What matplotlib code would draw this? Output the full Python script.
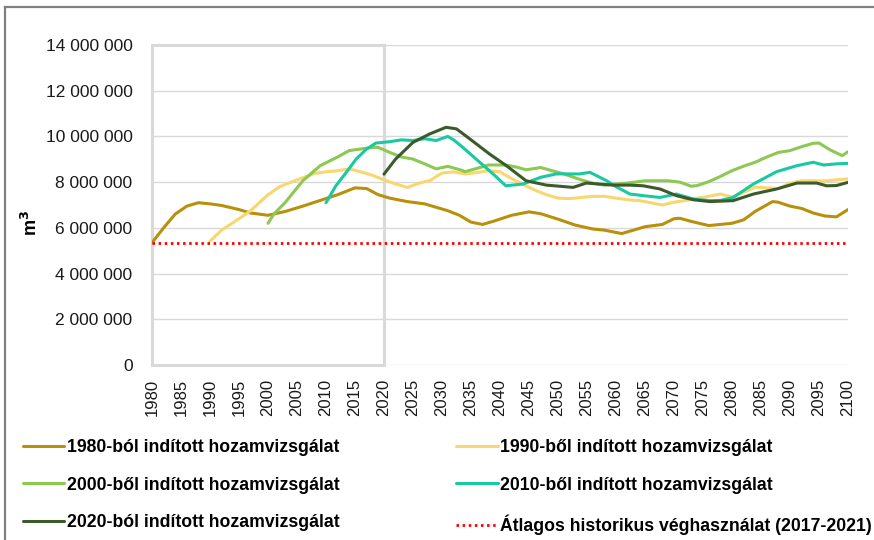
import numpy as np
import matplotlib
matplotlib.use("Agg")
import matplotlib.pyplot as plt
from matplotlib.patches import Rectangle
from matplotlib.lines import Line2D

plt.rcParams['font.family'] = ['Liberation Sans', 'DejaVu Sans']

# data, values in million m3
y1980 = [1980, 1982, 1984, 1986, 1988, 1990, 1992, 1995, 1997, 2000, 2003, 2006, 2009, 2012,
         2015, 2017, 2019, 2021, 2024, 2027, 2029, 2031, 2033, 2035, 2037, 2039, 2042, 2045,
         2047, 2050, 2053, 2056, 2058, 2061, 2063, 2065, 2068, 2070, 2071, 2073, 2076, 2078,
         2080, 2082, 2084, 2087, 2088, 2090, 2092, 2094, 2096, 2098, 2100]
v1980 = [5.35, 6.0, 6.6, 6.95, 7.1, 7.05, 6.98, 6.8, 6.65, 6.55, 6.72, 6.95, 7.2, 7.45,
         7.75, 7.72, 7.45, 7.3, 7.15, 7.05, 6.9, 6.75, 6.55, 6.25, 6.15, 6.3, 6.55, 6.7,
         6.62, 6.38, 6.12, 5.95, 5.9, 5.75, 5.9, 6.05, 6.15, 6.4, 6.42, 6.28, 6.1, 6.15,
         6.2, 6.35, 6.72, 7.15, 7.12, 6.95, 6.85, 6.65, 6.52, 6.48, 6.8]

y1990 = [1990, 1992, 1995, 1997, 2000, 2002, 2005, 2008, 2010, 2012, 2014, 2016, 2018, 2020,
         2022, 2024, 2026, 2028, 2030, 2032, 2034, 2036, 2038, 2040, 2042, 2044, 2046, 2048,
         2050, 2052, 2054, 2056, 2058, 2060, 2062, 2064, 2066, 2068, 2070, 2072, 2074, 2076,
         2078, 2080, 2082, 2084, 2086, 2088, 2090, 2092, 2094, 2096, 2098, 2100]
v1990 = [5.42, 5.9, 6.4, 6.75, 7.45, 7.8, 8.1, 8.38, 8.45, 8.5, 8.58, 8.45, 8.3, 8.1,
         7.92, 7.77, 7.95, 8.08, 8.4, 8.45, 8.36, 8.42, 8.5, 8.45, 8.15, 7.9, 7.65, 7.45,
         7.3, 7.28, 7.33, 7.38, 7.38, 7.3, 7.23, 7.19, 7.1, 7.0, 7.12, 7.2, 7.3, 7.38,
         7.48, 7.35, 7.55, 7.78, 7.75, 7.72, 7.95, 8.06, 8.06, 8.05, 8.1, 8.14]

y2000 = [2000, 2001, 2003, 2006, 2009, 2012, 2014, 2016, 2018, 2019, 2021, 2023, 2025, 2027,
         2029, 2031, 2033, 2034, 2036, 2038, 2041, 2043, 2044.5, 2047, 2049, 2051, 2054, 2056,
         2058, 2060, 2062, 2065, 2069, 2071, 2073, 2074, 2076, 2078, 2080, 2082, 2084, 2086,
         2088, 2090, 2092, 2094, 2095, 2097, 2099, 2100]
v2000 = [6.2, 6.6, 7.12, 8.06, 8.72, 9.1, 9.38, 9.45, 9.52, 9.52, 9.3, 9.1, 9.01, 8.8,
         8.58, 8.69, 8.55, 8.46, 8.6, 8.75, 8.75, 8.65, 8.54, 8.64, 8.5, 8.36, 8.1, 7.95,
         7.87, 7.92, 7.96, 8.06, 8.06, 8.0, 7.82, 7.85, 8.02, 8.25, 8.5, 8.7, 8.87, 9.1,
         9.3, 9.38, 9.55, 9.7, 9.71, 9.4, 9.16, 9.33]

y2010 = [2010, 2011.7, 2013.5, 2015.2, 2017, 2018.6, 2021, 2023, 2025, 2027, 2029, 2031,
         2032, 2033.6, 2036.5, 2038.8, 2041, 2044, 2047, 2049.7, 2053.7, 2055.5, 2058.4,
         2060, 2062.4, 2065, 2067.6, 2070.4, 2073.3, 2076.2, 2078, 2080.2, 2083.7, 2087.7,
         2091.2, 2094, 2095.8, 2098, 2100]
v2010 = [7.1, 7.84, 8.43, 9.01, 9.45, 9.71, 9.77, 9.85, 9.82, 9.9, 9.82, 10.0,
         9.85, 9.52, 8.87, 8.36, 7.84, 7.92, 8.21, 8.36, 8.36, 8.43, 8.06,
         7.8, 7.48, 7.4, 7.33, 7.48, 7.26, 7.19, 7.2, 7.33, 7.92, 8.46,
         8.72, 8.87, 8.75, 8.8, 8.82]

y2020 = [2020, 2022, 2025, 2027.8, 2030.7, 2032.5, 2034.8, 2038.2, 2041.1, 2044.5, 2048,
         2052.6, 2054.9, 2059.5, 2062.4, 2064.7, 2067.6, 2070.4, 2073.3, 2076.2, 2080.2,
         2083.7, 2087.7, 2091.2, 2094.6, 2096.3, 2098, 2100]
v2020 = [8.35, 9.01, 9.74, 10.1, 10.4, 10.33, 9.89, 9.23, 8.72, 8.06, 7.87,
         7.77, 7.96, 7.87, 7.87, 7.84, 7.7, 7.41, 7.23, 7.15, 7.19,
         7.48, 7.7, 7.96, 7.96, 7.84, 7.85, 7.99]

hist_avg = 5.35

labels = ['1980-ból indított hozamvizsgálat', '1990-ből indított hozamvizsgálat',
          '2000-ből indított hozamvizsgálat', '2010-ből indított hozamvizsgálat',
          '2020-ból indított hozamvizsgálat', 'Átlagos historikus véghasználat (2017-2021)']
colors = ['#B8900C', '#F8D670', '#8CC852', '#18C9A2', '#3C5A2C']

fig = plt.figure(figsize=(8.74, 5.4), dpi=100)
ax = fig.add_axes([152/874, 1 - 365/540, (848 - 152)/874, 320/540])

lines = []
for (yy, vv), c, lab in zip([(y1980, v1980), (y1990, v1990), (y2000, v2000),
                             (y2010, v2010), (y2020, v2020)], colors, labels):
    l, = ax.plot(yy, np.array(vv) * 1e6, color=c, lw=2.2, label=lab, zorder=3,
                 solid_capstyle='round')
    lines.append(l)
avg, = ax.plot([1980, 2100], [hist_avg * 1e6] * 2, color='#FF0000', lw=2,
               linestyle=(0, (0.9, 1.3)), dash_capstyle='butt', zorder=4, label=labels[5])

ax.add_patch(Rectangle((1980, 0), 40, 14e6, fill=False, edgecolor='#D9D9D9', lw=2.2,
                       clip_on=False, zorder=2))

ax.set_xlim(1980, 2100)
ax.set_ylim(0, 14e6)
ax.set_xticks(range(1980, 2101, 5))
ax.set_xticklabels([str(y) for y in range(1980, 2101, 5)], rotation=90, fontsize=12)
ax.set_yticks(np.arange(0, 14e6 + 1, 2e6))
ax.set_yticklabels([f'{int(v):,}'.replace(',', ' ') for v in np.arange(0, 14e6 + 1, 2e6)],
                   fontsize=12.5)
ax.tick_params(length=0, colors='#1a1a1a')
ax.tick_params(axis='y', pad=14)
ax.tick_params(axis='x', pad=10)
ax.grid(axis='y', color='#D9D9D9', lw=1)
ax.set_axisbelow(True)
for s in ax.spines.values():
    s.set_visible(False)

ax.set_ylabel('m$^\\mathbf{3}$', fontsize=13, fontweight='bold', rotation=90)
ax.yaxis.set_label_coords(-0.16, 0.444)

handles = [lines[0], lines[2], lines[4], lines[1], lines[3], avg]
fig.legend(handles, [h.get_label() for h in handles], ncol=2, loc='upper left',
           bbox_to_anchor=(23/874, 1 - 439/540), frameon=False, borderpad=0,
           borderaxespad=0, handlelength=2.35, handletextpad=0.15, labelspacing=1.17,
           columnspacing=6.6,
           prop={'family': ['Liberation Sans'], 'weight': 'bold', 'size': 12.7})

fig.add_artist(Line2D([5/874, 1], [1 - 7/540, 1 - 7/540], color='#808080', lw=1.6))
fig.add_artist(Line2D([5/874, 5/874], [0, 1 - 7/540], color='#808080', lw=1.6))

fig.savefig('out.png', dpi=100)
